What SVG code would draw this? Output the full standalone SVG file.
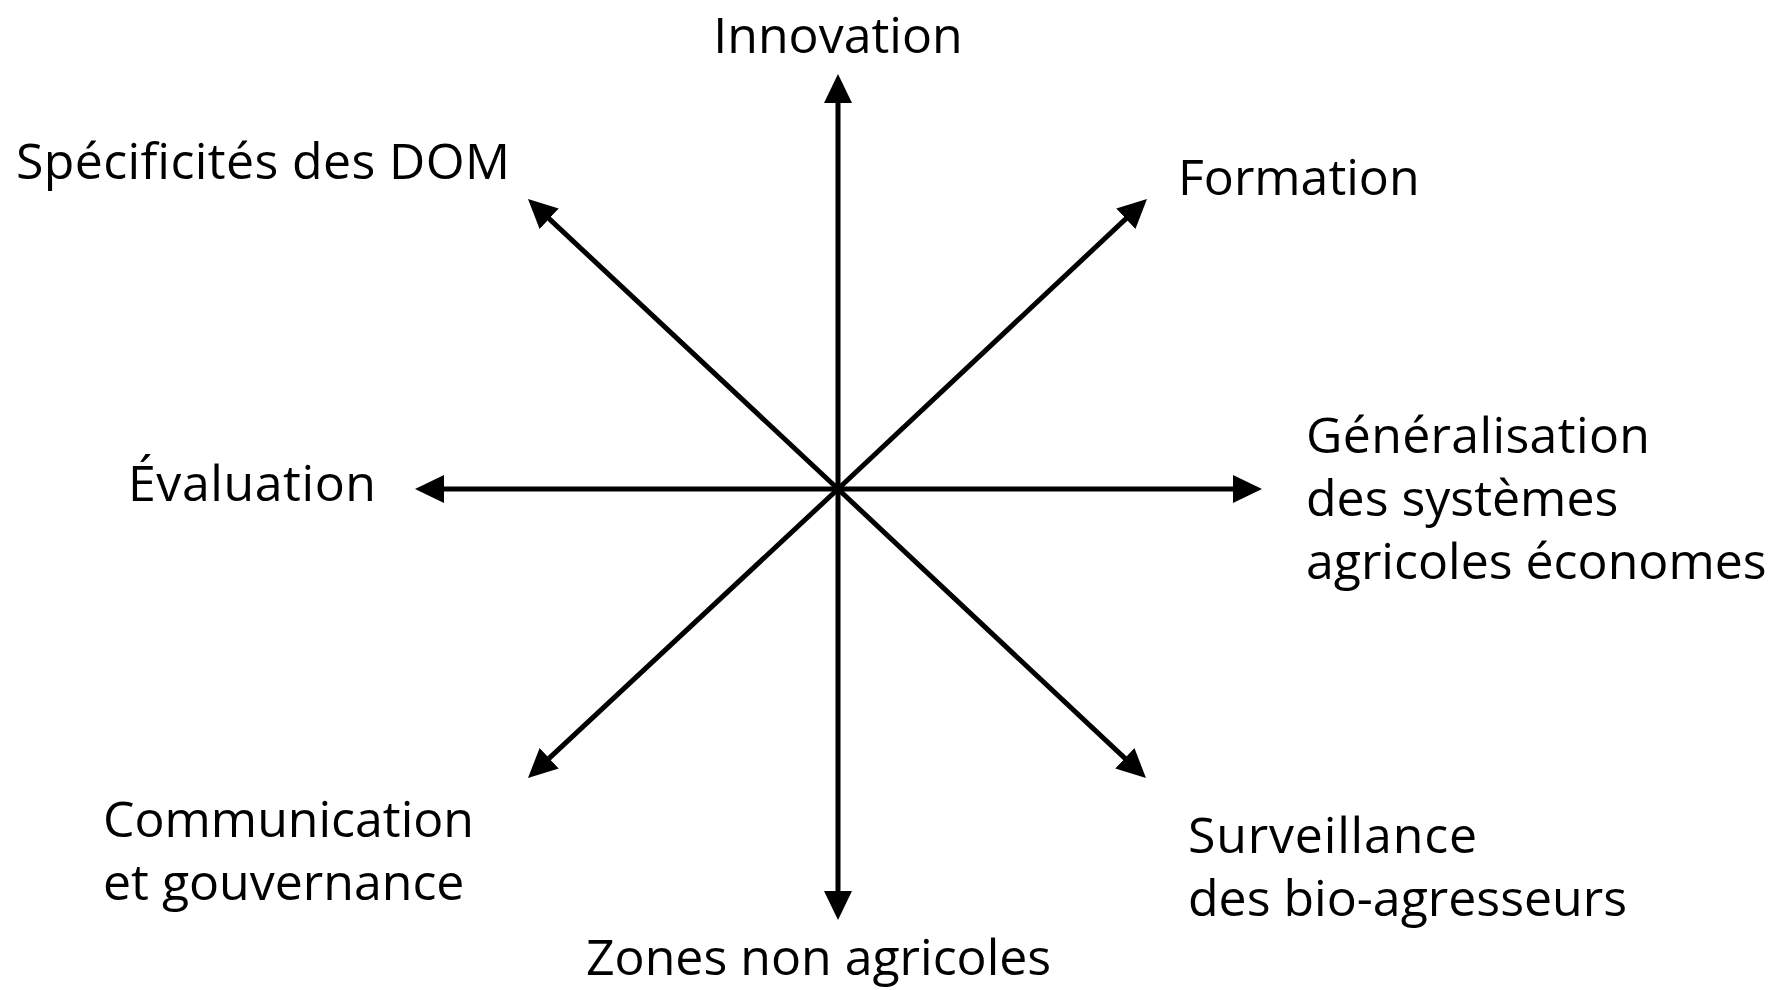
<svg xmlns="http://www.w3.org/2000/svg" width="1776" height="990" viewBox="0 0 1776 990">
<style>
text{font-family:"Open Sans","Noto Sans","DejaVu Sans",sans-serif;font-size:50px;fill:#000}
.ax{stroke:#000;stroke-width:5;fill:none;marker-end:url(#ah)}
</style>
<defs>
<marker id="ah" markerUnits="userSpaceOnUse" markerWidth="30" markerHeight="30" viewBox="0 0 30 30" refX="9" refY="15" orient="auto">
<path d="M0,1 L29,15 L0,29 z" fill="#000"/>
</marker>
</defs>
<rect width="1776" height="990" fill="#fff"/>
<g id="connectors">
<line class="ax" x1="838" y1="489" x2="838" y2="94"/>
<line class="ax" x1="838" y1="489" x2="838" y2="900"/>
<line class="ax" x1="838" y1="489" x2="435" y2="489"/>
<line class="ax" x1="838" y1="489" x2="1242" y2="489"/>
<line class="ax" x1="838" y1="489" x2="542.6" y2="212.6"/>
<line class="ax" x1="838" y1="489" x2="1132.4" y2="212.6"/>
<line class="ax" x1="838" y1="489" x2="542.6" y2="764.4"/>
<line class="ax" x1="838" y1="489" x2="1131.4" y2="764.4"/>
</g>
<g id="innovation"><text x="838" y="53" text-anchor="middle">Innovation</text></g>
<g id="specificites"><text x="16" y="179" textLength="494">Spécificités des DOM</text></g>
<g id="formation"><text x="1178" y="195">Formation</text></g>
<g id="evaluation"><text x="128" y="501" textLength="248">Évaluation</text></g>
<g id="generalisation"><text x="1306" y="453" textLength="344">Généralisation</text><text x="1306" y="516">des systèmes</text><text x="1306" y="579">agricoles économes</text></g>
<g id="communication"><text x="103" y="837">Communication</text><text x="103" y="900">et gouvernance</text></g>
<g id="surveillance"><text x="1188" y="853" textLength="289">Surveillance</text><text x="1188" y="916">des bio-agresseurs</text></g>
<g id="zones"><text x="586" y="975">Zones non agricoles</text></g>
</svg>
